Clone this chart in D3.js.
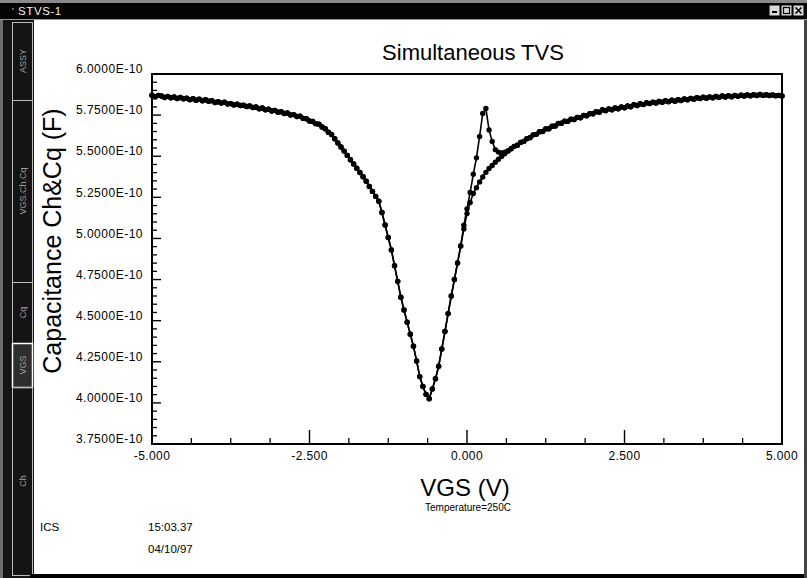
<!DOCTYPE html>
<html>
<head>
<meta charset="utf-8">
<script src="https://cdn.jsdelivr.net/npm/d3@7"></script>
<style>
  html, body { margin: 0; padding: 0; background: #fff; }
  svg { display: block; font-family: Arial, "Liberation Sans", sans-serif; }
</style>
</head>
<body>
<svg id="chart" width="807" height="578"></svg>
<script>
// Gate sweep: VGS from -5 V to +5 V in 0.05 V steps
const vgsStart = -5;
const vgsStep = 0.05;

// High-frequency capacitance Ch (pF), one value per sweep step
const ch = [
  587.1, 586.2, 587.0, 586.6, 585.7, 586.4, 585.6, 586.0, 585.1, 585.7, // -5.00
  584.9, 585.3, 584.4, 585.0, 584.1, 584.6, 583.7, 584.3, 583.4, 583.8, // -4.50
  582.7, 583.1, 582.3, 582.9, 581.8, 582.0, 581.2, 581.7, 580.8, 581.0, // -4.00
  580.2, 580.6, 579.6, 579.9, 578.9, 579.3, 578.3, 578.6, 577.5, 577.9, // -3.50
  576.8, 577.0, 576.0, 576.3, 575.1, 575.3, 574.2, 574.4, 573.0, 572.8, // -3.00
  571.4, 571.1, 569.8, 569.5, 567.8, 566.7, 564.6, 563.2, 560.6, 558.1, // -2.50
  555.6, 553.1, 550.5, 547.9, 545.3, 542.7, 540.1, 537.5, 534.8, 531.6, // -2.00
  528.6, 525.6, 522.6, 515.8, 508.2, 500.6, 493.0, 483.4, 473.9, 464.3, // -1.50
  456.5, 449.1, 441.7, 434.4, 425.5, 416.0, 410.0, 405.2, 402.5, 408.5, // -1.00
  414.7, 422.3, 432.8, 443.4, 454.3, 465.0, 475.0, 485.1, 495.4, 505.8, // -0.50
  515.1, 521.9, 527.3, 530.9, 534.4, 537.4, 540.2, 542.5, 544.4, 546.4, //  0.00
  548.2, 549.9, 551.5, 553.2, 554.5, 556.0, 556.7, 558.4, 559.0, 560.7, //  0.50
  561.3, 563.0, 563.3, 564.9, 565.0, 566.6, 566.7, 568.2, 568.4, 569.9, //  1.00
  570.1, 571.3, 571.2, 572.5, 572.3, 573.6, 573.4, 574.8, 574.6, 575.9, //  1.50
  575.8, 577.1, 576.8, 578.3, 577.7, 578.8, 578.3, 579.3, 578.9, 580.0, //  2.00
  579.5, 580.6, 580.1, 581.4, 580.8, 581.9, 581.4, 582.5, 582.0, 582.9, //  2.50
  582.4, 583.3, 582.8, 583.7, 583.2, 584.0, 583.5, 584.4, 583.9, 584.8, //  3.00
  584.3, 585.2, 584.7, 585.6, 585.1, 585.9, 585.3, 586.1, 585.5, 586.3, //  3.50
  585.8, 586.6, 586.0, 586.8, 586.2, 587.0, 586.4, 587.1, 586.6, 587.3, //  4.00
  586.8, 587.4, 586.9, 587.5, 587.0, 587.4, 586.9, 587.3, 586.8, 587.0, //  4.50
  586.6                                                                 //  5.00
];

// Quasi-static capacitance Cq (pF) where it departs from Ch (inversion peak)
const cqPeakVgs = [-0.05, 0.00, 0.05, 0.10, 0.15, 0.20, 0.25, 0.30, 0.35, 0.40, 0.45, 0.50, 0.55, 0.60];
const cqPeak    = [508.0, 518.0, 528.0, 539.0, 549.0, 562.0, 576.0, 579.0, 566.0, 559.0, 554.0, 552.5, 552.0, 552.5];

// Axis ticks
const yMajorTicks = [375, 400, 425, 450, 475, 500, 525, 550, 575, 600];   // pF
const xMajorTicks = [-5, -2.5, 0, 2.5, 5];                                 // V
const xTickLabels = ["-5.000", "-2.500", "0.000", "2.500", "5.000"];

// Texts
const windowTitle = "STVS-1";
const chartTitle = "Simultaneous TVS";
const yTitle = "Capacitance Ch&Cq (F)";
const xTitle = "VGS (V)";
const note = "Temperature=250C";
const footer = ["ICS", "15:03.37", "04/10/97"];
const tabs = ["ASSY", "VGS.Ch.Cq", "Cq", "VGS", "Ch"];

// ---------------------------------------------------------------------------
const svg = d3.select("#chart");
const W = 807, H = 578;
const plot = { left: 152, right: 782, top: 74, bottom: 444 };

const x = d3.scaleLinear().domain([-5, 5]).range([plot.left, plot.right]);
const y = d3.scaleLinear().domain([375, 600]).range([plot.bottom, plot.top]);

const vgs = d3.range(ch.length).map(i => +(vgsStart + i * vgsStep).toFixed(2));
const chSeries = vgs.map((v, i) => ({ v, c: ch[i] }));
const cqSeries = vgs.map((v, i) => {
  const k = cqPeakVgs.indexOf(v);
  return { v, c: k >= 0 ? cqPeak[k] : ch[i] };
});

// ---- window frame --------------------------------------------------------
svg.append("rect").attr("width", W).attr("height", H).attr("fill", "#fff");
svg.append("rect").attr("x", 0).attr("y", 0).attr("width", W).attr("height", 3).attr("fill", "#8a8a8a");
svg.append("rect").attr("x", 0).attr("y", 3).attr("width", W).attr("height", 16).attr("fill", "#050505");
svg.append("rect").attr("x", 0).attr("y", 19).attr("width", W).attr("height", 1).attr("fill", "#9a9a9a");
svg.append("text").attr("x", 12).attr("y", 14).attr("fill", "#ddd")
  .attr("font-size", 9).text("'");
svg.append("text").attr("x", 18).attr("y", 15).attr("fill", "#f2f2f2")
  .attr("font-size", 11.5).attr("letter-spacing", 0.6).text(windowTitle);

// caption buttons
const btn = svg.append("g");
[769, 781, 793].forEach((bx, i) => {
  btn.append("rect").attr("x", bx).attr("y", 5).attr("width", 11).attr("height", 11)
    .attr("fill", "#d8d8d8").attr("stroke", "#000").attr("stroke-width", 1);
  if (i === 0) btn.append("rect").attr("x", bx + 3).attr("y", 11).attr("width", 5).attr("height", 2).attr("fill", "#000");
  if (i === 1) btn.append("rect").attr("x", bx + 2.5).attr("y", 7.5).attr("width", 6).attr("height", 6)
    .attr("fill", "none").attr("stroke", "#000").attr("stroke-width", 1.2);
  if (i === 2) btn.append("path").attr("d", `M${bx + 2.5},7.5 L${bx + 8.5},13.5 M${bx + 8.5},7.5 L${bx + 2.5},13.5`)
    .attr("stroke", "#000").attr("stroke-width", 1.6);
});

// left tab strip
svg.append("rect").attr("x", 0).attr("y", 20).attr("width", 34).attr("height", H - 20).attr("fill", "#141414");
svg.append("rect").attr("x", 0).attr("y", 20).attr("width", 3).attr("height", H - 20).attr("fill", "#6e6e6e");
const tabSpans = [[22, 100], [100, 282], [282, 343], [343, 387], [387, 575]];
tabSpans.forEach(([t0, t1], i) => {
  svg.append("rect").attr("x", 12.5).attr("y", t0 + 0.5).attr("width", 20).attr("height", t1 - t0)
    .attr("fill", i === 3 ? "#2e2e2e" : "none").attr("stroke", i === 3 ? "#fff" : "#bdbdbd")
    .attr("stroke-width", i === 3 ? 1.5 : 1);
  svg.append("text")
    .attr("transform", `translate(26,${(t0 + t1) / 2}) rotate(-90)`)
    .attr("text-anchor", "middle").attr("fill", "#9c9c9c").attr("font-size", 9)
    .text(tabs[i]);
});

// bottom and right window edges
svg.append("rect").attr("x", 30).attr("y", 574).attr("width", W - 30).attr("height", 4).attr("fill", "#000");
svg.append("rect").attr("x", 804).attr("y", 20).attr("width", 3).attr("height", H - 20).attr("fill", "#444");

// ---- plot area -----------------------------------------------------------
const g = svg.append("g");

// minor / major y ticks (inside, from the left axis)
const yMinor = d3.range(375, 600.1, 5).filter(v => !yMajorTicks.includes(v));
g.selectAll(".ymin").data(yMinor).join("line")
  .attr("x1", plot.left).attr("x2", plot.left + 5)
  .attr("y1", d => y(d)).attr("y2", d => y(d))
  .attr("stroke", "#000").attr("stroke-width", 1.3);
g.selectAll(".ymaj").data(yMajorTicks).join("line")
  .attr("x1", plot.left).attr("x2", plot.left + 9)
  .attr("y1", d => y(d)).attr("y2", d => y(d))
  .attr("stroke", "#000").attr("stroke-width", 1.4);

// x ticks (inside, up from the bottom axis); 4 minor steps per major
const xMinor = d3.range(-5, 5.001, 0.625).filter(v => !xMajorTicks.some(t => Math.abs(t - v) < 1e-6));
g.selectAll(".xmin").data(xMinor).join("line")
  .attr("x1", d => x(d)).attr("x2", d => x(d))
  .attr("y1", plot.bottom).attr("y2", plot.bottom - 6)
  .attr("stroke", "#000").attr("stroke-width", 1.3);
g.selectAll(".xmaj").data(xMajorTicks).join("line")
  .attr("x1", d => x(d)).attr("x2", d => x(d))
  .attr("y1", plot.bottom).attr("y2", plot.bottom - 14)
  .attr("stroke", "#000").attr("stroke-width", 1.4);

// frame
g.append("rect")
  .attr("x", plot.left).attr("y", plot.top)
  .attr("width", plot.right - plot.left).attr("height", plot.bottom - plot.top)
  .attr("fill", "none").attr("stroke", "#000").attr("stroke-width", 2);

// y tick labels
g.selectAll(".ylab").data(yMajorTicks).join("text")
  .attr("x", 143).attr("y", d => y(d) - 4)
  .attr("dominant-baseline", "middle").attr("text-anchor", "end")
  .attr("font-size", 12).attr("letter-spacing", 0.5)
  .text(d => (d / 100).toFixed(4) + "E-10");

// x tick labels
g.selectAll(".xlab").data(xMajorTicks).join("text")
  .attr("x", d => x(d)).attr("y", 457)
  .attr("dominant-baseline", "middle").attr("text-anchor", "middle")
  .attr("font-size", 12).attr("letter-spacing", 0.4)
  .text((d, i) => xTickLabels[i]);

// titles
svg.append("text").attr("x", 473).attr("y", 60).attr("text-anchor", "middle")
  .attr("font-size", 22).text(chartTitle);
svg.append("text").attr("transform", `translate(61,${241}) rotate(-90)`)
  .attr("text-anchor", "middle").attr("font-size", 25).text(yTitle);
svg.append("text").attr("x", 465).attr("y", 496).attr("text-anchor", "middle")
  .attr("font-size", 24).text(xTitle);
svg.append("text").attr("x", 468).attr("y", 511).attr("text-anchor", "middle")
  .attr("font-size", 10).text(note);

svg.append("text").attr("x", 40).attr("y", 531).attr("font-size", 11.5).text(footer[0]);
svg.append("text").attr("x", 148).attr("y", 531).attr("font-size", 11.5).text(footer[1]);
svg.append("text").attr("x", 148).attr("y", 553).attr("font-size", 11.5).text(footer[2]);

// ---- data ----------------------------------------------------------------
const line = d3.line().x(d => x(d.v)).y(d => y(d.c));

[cqSeries, chSeries].forEach(series => {
  g.append("path").datum(series)
    .attr("d", line).attr("fill", "none")
    .attr("stroke", "#000").attr("stroke-width", 1.6);
  g.append("g").selectAll("circle").data(series).join("circle")
    .attr("cx", d => x(d.v)).attr("cy", d => y(d.c)).attr("r", 2.7)
    .attr("fill", "#000");
});
</script>
</body>
</html>
